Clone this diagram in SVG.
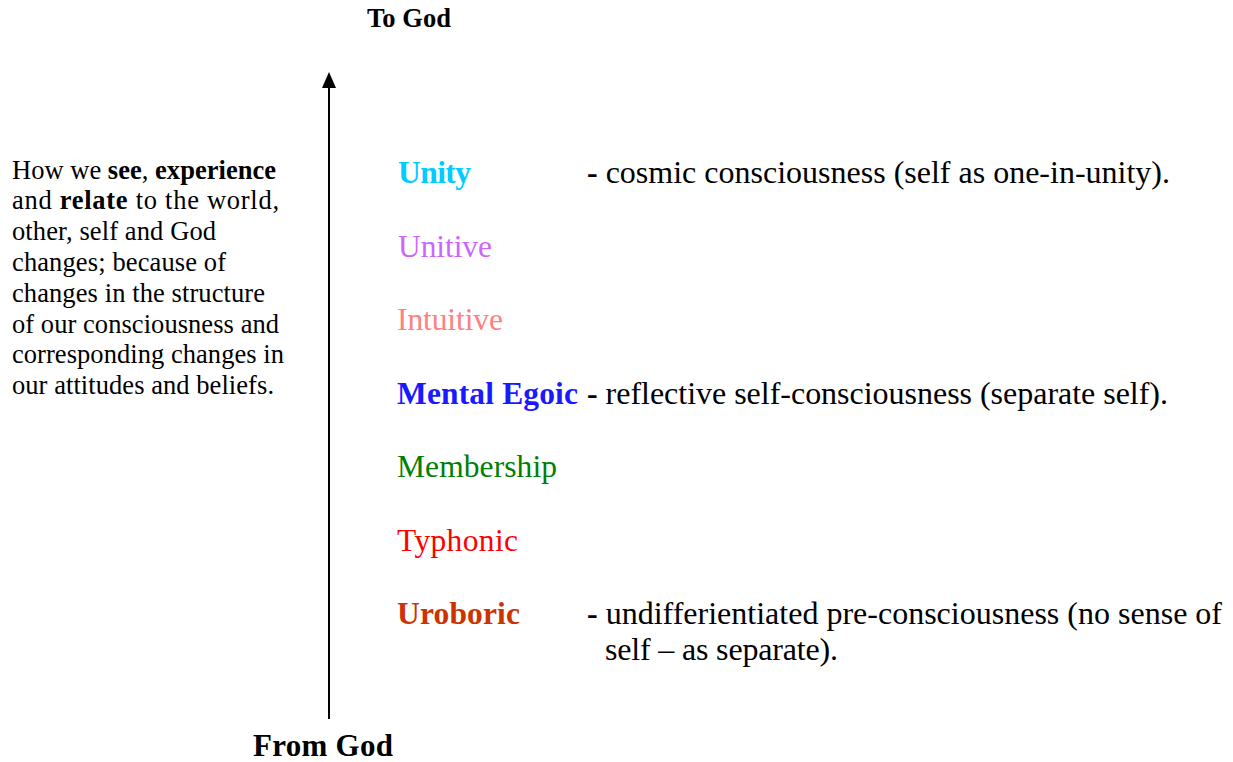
<svg xmlns="http://www.w3.org/2000/svg" width="1233" height="762" viewBox="0 0 1233 762">
<style>
text{font-family:"Liberation Serif","Times New Roman",serif;fill:#000}
.b{font-weight:bold}
.para{font-size:26.5px}
.lvl{font-size:31.5px}
.desc{font-size:32px}
</style>
<rect width="1233" height="762" fill="#fff"/>
<g id="connectors">
<line x1="329" y1="719" x2="329" y2="86" stroke="#000" stroke-width="2"/>
<path d="M322,88 L329,72 L336,88 Z" fill="#000"/>
</g>
<g id="to-god"><text class="b" x="367" y="27" font-size="26.5" textLength="84">To God</text></g>
<g id="from-god"><text class="b" x="253" y="756" font-size="31" textLength="140">From God</text></g>
<g id="explanation" class="para">
<text x="12" y="179" textLength="264">How we <tspan class="b">see</tspan>, <tspan class="b">experience</tspan></text>
<text x="12" y="209" textLength="267">and <tspan class="b">relate</tspan> to the world,</text>
<text x="12" y="240" textLength="204">other, self and God</text>
<text x="12" y="271" textLength="214">changes; because of</text>
<text x="12" y="302" textLength="253">changes in the structure</text>
<text x="12" y="333" textLength="267">of our consciousness and</text>
<text x="12" y="363" textLength="272">corresponding changes in</text>
<text x="12" y="394" textLength="262">our attitudes and beliefs.</text>
</g>
<g id="unity"><text class="lvl b" x="398" y="183" style="fill:#00CCFF" textLength="73">Unity</text>
<text class="desc" x="587" y="183" textLength="583"><tspan class="b">-</tspan> cosmic consciousness (self as one-in-unity).</text></g>
<g id="unitive"><text class="lvl" x="398" y="257" style="fill:#CC66FF" textLength="94">Unitive</text></g>
<g id="intuitive"><text class="lvl" x="397" y="330" style="fill:#FF8080" textLength="106">Intuitive</text></g>
<g id="mental-egoic"><text class="lvl b" x="397" y="404" style="fill:#1A1AFF" textLength="181">Mental Egoic</text>
<text class="desc" x="587" y="404" textLength="581"><tspan class="b">-</tspan> reflective self-consciousness (separate self).</text></g>
<g id="membership"><text class="lvl" x="397" y="477" style="fill:#008000" textLength="160">Membership</text></g>
<g id="typhonic"><text class="lvl" x="397" y="551" style="fill:#FF0000" textLength="121">Typhonic</text></g>
<g id="uroboric"><text class="lvl b" x="397" y="624" style="fill:#CC3300" textLength="123">Uroboric</text>
<text class="desc" x="587" y="624" textLength="635"><tspan class="b">-</tspan> undifferientiated pre-consciousness (no sense of</text>
<text class="desc" x="605" y="660" textLength="233">self – as separate).</text></g>
</svg>
